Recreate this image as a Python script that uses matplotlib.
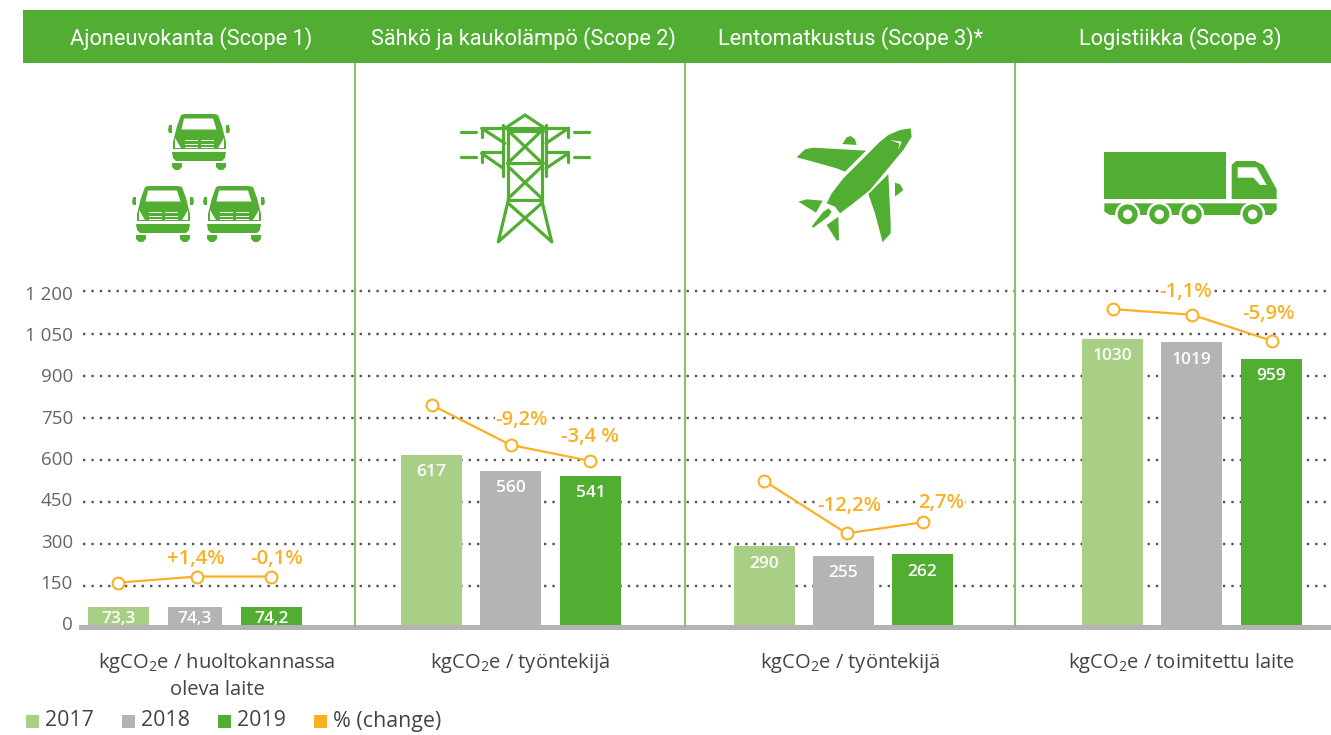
import numpy as np
import matplotlib
matplotlib.use('Agg')
import matplotlib.pyplot as plt
from matplotlib.patches import Polygon, Rectangle, Circle
from matplotlib.transforms import Affine2D

plt.rcParams['font.family'] = ['Open Sans', 'DejaVu Sans']
plt.rcParams['mathtext.default'] = 'regular'

# Data
panel_titles = ['Ajoneuvokanta (Scope 1)', 'Sähkö ja kaukolämpö (Scope 2)',
                'Lentomatkustus (Scope 3)*', 'Logistiikka (Scope 3)']
units = ['kgCO$_2$e / huoltokannassa\noleva laite', 'kgCO$_2$e / työntekijä',
         'kgCO$_2$e / työntekijä', 'kgCO$_2$e / toimitettu laite']
values_2017 = [73.3, 617, 290, 1030]
values_2018 = [74.3, 560, 255, 1019]
values_2019 = [74.2, 541, 262, 959]
labels_2017 = ['73,3', '617', '290', '1030']
labels_2018 = ['74,3', '560', '255', '1019']
labels_2019 = ['74,2', '541', '262', '959']
line_values = [[160, 182, 182], [795, 652, 595], [524, 336, 376], [1137, 1117, 1024]]
change_labels = [['+1,4%', '-0,1%'], ['-9,2%', '-3,4 %'], ['-12,2%', '2,7%'], ['-1,1%', '-5,9%']]
y_ticks = [0, 150, 300, 450, 600, 750, 900, 1050, 1200]
y_tick_labels = ['0', '150', '300', '450', '600', '750', '900', '1 050', '1 200']
legend_labels = ['2017', '2018', '2019', '% (change)']

GREEN = '#52AE32'
LIGHT = '#A8CF85'
GRAY = '#B4B4B4'
ORANGE = '#FBB024'
DIVIDER = '#84C36E'
W, H = 1331, 735
Y0, Y1200 = 627.5, 291.5

# Positions in pixels
bar_centers = [[118.5, 195, 271.5], [431.5, 510.5, 590.5], [764.5, 843.5, 922.5], [1112.5, 1191.5, 1271.5]]
bar_widths = [[61, 54, 61], [61, 61, 61], [61, 61, 61], [61, 61, 61]]
line_x = [[118, 196.5, 271], [431.5, 510.5, 590], [764, 846.5, 923], [1113, 1192, 1272]]
title_centers = [191, 523, 850, 1180]
unit_centers = [217, 520, 850, 1181]
change_pos = [[(196, 559), (277, 559)], [(522, 420), (590, 437)],
              [(849, 506), (941, 502.5)], [(1186, 292), (1268.5, 314)]]
dividers = [355, 685, 1015]
tick_label_px = np.linspace(623, 293, 9)

fig = plt.figure(figsize=(W / 100, H / 100), dpi=100)

# background axes for the header band
fig_bg = fig.add_axes([0, 0, 1, 1], zorder=1)
fig_bg.set_xlim(0, W)
fig_bg.set_ylim(H, 0)
fig_bg.axis('off')
fig_bg.add_patch(Rectangle((23, 10), W - 23, 53, color=GREEN, lw=0))

# overlay in image pixels
over = fig.add_axes([0, 0, 1, 1], zorder=3)
over.patch.set_alpha(0)
over.set_xlim(0, W)
over.set_ylim(H, 0)
over.axis('off')

# data axes
ax = fig.add_axes([0, (H - Y0) / H, 1, (Y0 - Y1200) / H], zorder=2)
ax.patch.set_alpha(0)
ax.set_xlim(0, W)
ax.set_ylim(0, 1200)
for s in ax.spines.values():
    s.set_visible(False)
ax.set_xticks([])
ax.set_yticks(y_ticks)
ax.set_yticklabels(y_tick_labels, fontsize=13.5, color='#666666')
ax.tick_params(axis='y', length=0, pad=0)
for lab, t, px in zip(ax.get_yticklabels(), y_ticks, tick_label_px):
    grid_px = Y0 - (Y0 - Y1200) * t / 1200
    lab.set_x(73 / W)
    lab.set_transform(lab.get_transform() + Affine2D().translate(0, grid_px - px))

for t in y_ticks[1:]:
    ax.plot([83, W], [t, t], color='#555555', lw=1.7, dashes=(1, 2.55), zorder=1, clip_on=False)

for i in range(4):
    vals = [values_2017[i], values_2018[i], values_2019[i]]
    labs = [labels_2017[i], labels_2018[i], labels_2019[i]]
    for j, col in enumerate([LIGHT, GRAY, GREEN]):
        ax.bar(bar_centers[i][j], vals[j], width=bar_widths[i][j], color=col, zorder=2)
        y_lab = vals[j] - 62 if i > 0 else vals[j] / 2 - 6
        ax.text(bar_centers[i][j], y_lab, labs[j], color='white', fontsize=12.5, fontweight='semibold',
                ha='center', va='center', zorder=5)
    ax.plot(line_x[i], line_values[i], color=ORANGE, lw=1.6, marker='o', ms=8.5,
            mfc='white', mec=ORANGE, mew=1.5, zorder=4, clip_on=False)
    for lab, (x, y) in zip(change_labels[i], change_pos[i]):
        ax.text(x, y, lab, color=ORANGE, fontsize=14.6, fontweight='semibold', ha='center', va='center',
                transform=over.transData, zorder=3, bbox=dict(fc='white', ec='none', pad=0.5))

# dividers, baseline
over.add_patch(Rectangle((79, 625), W - 79, 5, color=GRAY, lw=0, zorder=1))
for x in dividers:
    over.plot([x, x], [63, 627], color=DIVIDER, lw=1.5, zorder=1, solid_capstyle='butt')
for t, x in zip(panel_titles, title_centers):
    over.text(x, 38.5, t, color='white', fontsize=15.7, family='Roboto',
              ha='center', va='center')

for t, x in zip(units, unit_centers):
    over.text(x, 651, t, color='#444444', fontsize=14.5, ha='center', va='top', linespacing=1.33)

# legend
legend_x = [26, 122, 218, 314]
for lab, x, col in zip(legend_labels, legend_x, [LIGHT, GRAY, GREEN, ORANGE]):
    over.add_patch(Rectangle((x, 715), 13, 13, color=col, lw=0))
    over.text(x + 19, 721, lab, color='#444444', fontsize=15.4, ha='left', va='center')


# icons
def van(x0, y0):
    def poly(pts, c=GREEN):
        over.add_patch(Polygon([(x0 + a, y0 + b) for a, b in pts], closed=True, color=c, lw=0))

    poly([(13, 1), (16, 0), (46, 0), (50, 1), (54, 12), (58, 28), (58, 35), (5, 35), (5, 28), (9, 12)])
    poly([(13.5, 15.5), (48.5, 15.5), (45, 4.5), (16, 4.5)], 'white')
    poly([(7, 24), (13, 34), (7, 34)], 'white')
    poly([(56, 24), (50, 34), (56, 34)], 'white')
    for yy in (26, 29.5, 32.5):
        poly([(17, yy), (30, yy), (30, yy + 1.3), (17, yy + 1.3)], 'white')
        poly([(33, yy), (46, yy), (46, yy + 1.3), (33, yy + 1.3)], 'white')
    poly([(4, 38), (58, 38), (57, 44), (54, 47), (8, 47), (5, 44)])
    for xx in (4, 48):
        poly([(xx, 49), (xx + 10, 49), (xx + 10, 53), (xx + 7, 56), (xx + 3, 56), (xx, 53)])
    poly([(1, 11), (4, 11), (4, 19), (1, 19), (0, 16)])
    poly([(58, 11), (61, 11), (62, 16), (61, 19), (58, 19)])


for p in [(168, 114), (132, 186), (203, 186)]:
    van(*p)


def pz(x, y):
    return 440 + x / 3, 100 + y / 3


pylon_lines = [
    [(62, 97), (108, 97)], [(402, 97), (448, 97)], [(62, 170), (108, 170)], [(402, 170), (448, 170)],
    [(195, 85), (255, 45), (315, 85)], [(125, 85), (385, 85)],
    [(190, 75), (190, 228)], [(205, 90), (205, 300)], [(305, 90), (305, 300)], [(318, 75), (318, 228)],
    [(205, 92), (310, 92)], [(200, 188), (310, 188)], [(205, 300), (305, 300)],
    [(205, 92), (305, 188)], [(305, 92), (205, 188)], [(205, 200), (305, 295)], [(305, 200), (205, 295)],
    [(205, 300), (175, 425)], [(305, 300), (335, 425)], [(205, 310), (335, 425)], [(305, 310), (175, 425)],
    [(125, 85), (125, 110)], [(125, 85), (195, 130)], [(385, 85), (385, 110)], [(385, 85), (318, 130)],
    [(125, 157), (190, 157)], [(125, 157), (125, 185)], [(125, 160), (190, 205)],
    [(318, 157), (385, 157)], [(385, 157), (385, 185)], [(385, 160), (318, 205)],
]
for seg in pylon_lines:
    xs, ys = zip(*[pz(*s) for s in seg])
    over.plot(xs, ys, color=GREEN, lw=2.3, solid_capstyle='round', solid_joinstyle='round')

plane_parts = [
    [(1412, 85), (1380, 90), (1345, 105), (1320, 125), (1210, 235), (1175, 280), (1160, 310), (1185, 320),
     (1200, 340), (1240, 310), (1290, 270), (1390, 150), (1415, 110)],
    [(1115, 380), (1150, 335), (1165, 325), (1175, 335), (1165, 350), (1120, 383)],
    [(1070, 172), (1095, 148), (1120, 143), (1278, 152), (1215, 215), (1190, 205), (1130, 188)],
    [(1345, 222), (1285, 282), (1305, 340), (1328, 427), (1352, 400), (1352, 370)],
    [(1207, 132), (1220, 112), (1232, 108), (1245, 118), (1250, 135)],
    [(1365, 248), (1380, 253), (1390, 270), (1365, 290)],
    [(1075, 305), (1100, 298), (1148, 302), (1128, 338)],
    [(1160, 375), (1195, 350), (1197, 420), (1190, 422)],
]
for part in plane_parts:
    over.add_patch(Polygon([pz(*s) for s in part], closed=True, color=GREEN, lw=0))
over.add_patch(Polygon([pz(*s) for s in [(1350, 120), (1385, 125), (1375, 150), (1378, 130)]],
                       closed=True, color='white', lw=0))


def tz(x, y):
    return 1080 + x / 3, 130 + y / 3


truck_parts = [
    [(73, 66), (437, 66), (437, 207), (73, 207)],
    [(455, 105), (468, 93), (525, 93), (550, 105), (590, 178), (590, 207), (455, 207)],
    [(73, 220), (590, 220), (590, 240), (575, 255), (90, 255), (73, 245)],
]
for part in truck_parts:
    over.add_patch(Polygon([tz(*s) for s in part], closed=True, color=GREEN, lw=0))
over.add_patch(Polygon([tz(*s) for s in [(473, 112), (530, 112), (560, 165), (540, 165), (520, 143), (473, 143)]],
                       closed=True, color='white', lw=0))
for cx in (143, 238, 335, 518):
    c = tz(cx, 253)
    over.add_patch(Circle(c, 12.5, color='white', lw=0))
    over.add_patch(Circle(c, 10, color=GREEN, lw=0))
    over.add_patch(Circle(c, 4.7, color='white', lw=0))

fig.savefig('out.png', dpi=100)
